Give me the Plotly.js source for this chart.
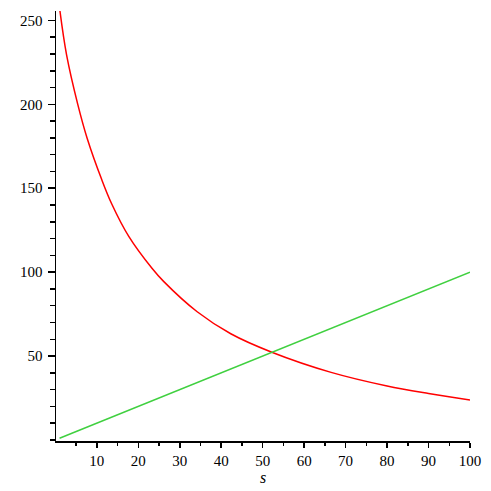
<!DOCTYPE html>
<html>
<head>
<meta charset="utf-8">
<script src="https://cdn.plot.ly/plotly-3.0.1.min.js"></script>
<style>
  html, body { margin: 0; padding: 0; background: #fff; }
  #chart { width: 491px; height: 491px; }
</style>
</head>
<body>
<div id="chart"></div>
<script>
// red curve
const redS = [1.1, 2.7, 5.4, 7.7, 11.2, 13.6, 17.7, 23.3, 26.1, 34.2, 42.3, 52.2, 66.5, 80, 90, 100];
const redY = [255.6, 229.5, 200, 179.5, 155, 140.6, 121.3, 102.3, 94.5, 76.4, 63.3, 52.3, 40.3, 32.2, 27.7, 23.8];

// green line
const greenS = [1, 100];
const greenY = [1, 100];

const xTicks = [10, 20, 30, 40, 50, 60, 70, 80, 90, 100];
const yTicks = [50, 100, 150, 200, 250];

const tickFont = { family: "Liberation Serif, Times New Roman, serif", size: 15, color: "#000" };

var data = [
  {
    x: redS, y: redY,
    type: "scatter", mode: "lines",
    line: { color: "rgb(255,0,0)", width: 1.5, shape: "spline", smoothing: 1 },
    hoverinfo: "x+y"
  },
  {
    x: greenS, y: greenY,
    type: "scatter", mode: "lines",
    line: { color: "rgb(64,208,64)", width: 1.5 },
    hoverinfo: "x+y"
  }
];

var layout = {
  width: 491,
  height: 491,
  margin: { l: 56, r: 21, t: 11, b: 50 },
  paper_bgcolor: "#fff",
  plot_bgcolor: "#fff",
  showlegend: false,
  xaxis: {
    range: [0.15, 100],
    tickvals: xTicks,
    ticks: "outside",
    ticklen: 5,
    tickwidth: 1.5,
    tickcolor: "#000",
    minor: { dtick: 5, tick0: 0, ticks: "outside", ticklen: 3, tickwidth: 1.5, tickcolor: "#000" },
    showline: true,
    linecolor: "#000",
    linewidth: 1.5,
    showgrid: false,
    zeroline: false,
    tickfont: tickFont,
    title: { text: "<i>s</i>", font: { family: "Liberation Serif, serif", size: 16, color: "#000" }, standoff: 4 },
    automargin: false
  },
  yaxis: {
    range: [-0.6, 255.6],
    tickvals: yTicks,
    ticks: "outside",
    ticklen: 7,
    tickwidth: 1.5,
    tickcolor: "#000",
    minor: { dtick: 10, tick0: 0, ticks: "outside", ticklen: 4.5, tickwidth: 1.5, tickcolor: "#000" },
    showline: true,
    linecolor: "#000",
    linewidth: 1.5,
    showgrid: false,
    zeroline: false,
    tickfont: tickFont,
    ticklabelstandoff: 2,
    automargin: false
  }
};

Plotly.newPlot(document.getElementById("chart"), data, layout, { displayModeBar: false, staticPlot: true });
</script>
</body>
</html>
